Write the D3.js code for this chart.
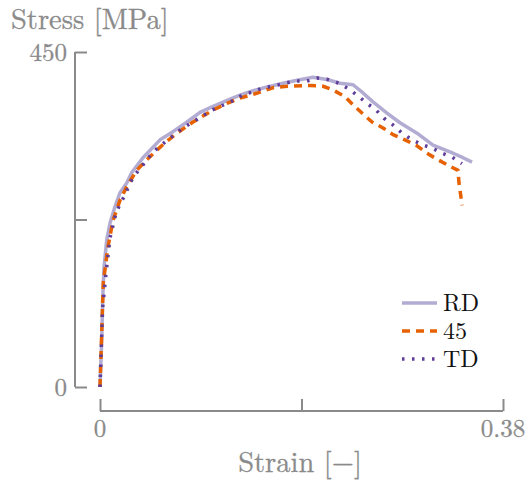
<!DOCTYPE html>
<html>
<head>
    <title>Stress strain</title>
    <script src="https://cdn.jsdelivr.net/npm/d3@7"></script>
    <style>
    body { margin:0; background:#fff; }
    </style>
</head>
<body>
</body>
<script type="text/javascript">

// strain [-], stress [MPa]
const rdStrain = [0, 0.0016, 0.0025, 0.0038, 0.0063, 0.0094, 0.0141, 0.0189, 0.0252, 0.0299, 0.0405, 0.050, 0.0566, 0.0688, 0.082, 0.0943, 0.1066, 0.1198, 0.132, 0.1443, 0.1575, 0.1726, 0.1858, 0.2008, 0.214, 0.2263, 0.2386, 0.248, 0.2574, 0.2706, 0.2829, 0.2989, 0.314, 0.3329, 0.3423, 0.3508];
const rdStress = [0, 63, 117, 161, 197, 220, 242, 261, 274, 288, 308, 322, 332, 343, 356, 369, 377, 385, 392, 398, 403, 408, 412, 416, 413, 408, 406, 395, 383, 368, 355, 341, 325, 314, 308, 302];

const d45Strain = [0, 0.0031, 0.0075, 0.0123, 0.0189, 0.0252, 0.0346, 0.044, 0.0535, 0.0613, 0.0707, 0.0877, 0.1066, 0.1198, 0.132, 0.1443, 0.1631, 0.1763, 0.198, 0.2103, 0.2197, 0.231, 0.2386, 0.247, 0.2565, 0.2669, 0.2763, 0.2876, 0.2989, 0.3083, 0.3178, 0.3281, 0.3376, 0.3385, 0.3404, 0.3413];
const d45Stress = [0, 140, 188, 224, 251, 269, 291, 305, 318, 328, 339, 356, 372, 381, 388, 393, 402, 404, 405, 404, 399, 390, 379, 368, 356, 348, 339, 332, 324, 314, 306, 298, 291, 274, 255, 244];

const tdStrain = [0, 0.0025, 0.0057, 0.0094, 0.0141, 0.0182, 0.0236, 0.0283, 0.033, 0.0393, 0.0455, 0.0535, 0.0613, 0.0783, 0.0877, 0.1056, 0.1245, 0.1339, 0.1433, 0.1537, 0.1631, 0.1744, 0.1848, 0.1952, 0.2046, 0.215, 0.2254, 0.2348, 0.2433, 0.2518, 0.2603, 0.2678, 0.2763, 0.2848, 0.2933, 0.3027, 0.313, 0.3225, 0.3319, 0.3413];
const tdStress = [0, 107, 153, 200, 228, 244, 258, 274, 285, 296, 308, 320, 329, 348, 356, 372, 384, 392, 396, 402, 404, 408, 411, 411, 415, 413, 408, 400, 391, 381, 372, 361, 352, 341, 333, 326, 321, 314, 309, 300];

const seriesNames = ["RD", "45", "TD"];
const xTicks = [0, 0.19, 0.38];
const xTickLabels = ["0", "", "0.38"];
const yTicks = [0, 225, 450];
const yTickLabels = ["0", "", "450"];

const colors = ["#b2abd2", "#e66101", "#5e3c99"];
const dashes = [null, "8,6", "2.5,7.5"];
const widths = [3.5, 3.5, 3.5];
const grey = "#8a8a8a";
const serif = "Latin Modern Roman";

const series = [
    {name:seriesNames[0], values:rdStrain.map((s,i)=>({x:s, y:rdStress[i]}))},
    {name:seriesNames[1], values:d45Strain.map((s,i)=>({x:s, y:d45Stress[i]}))},
    {name:seriesNames[2], values:tdStrain.map((s,i)=>({x:s, y:tdStress[i]}))}
];

const W = 525, H = 485;
const svg = d3.select("body").append("svg")
    .attr("width", W).attr("height", H)
    .attr("font-family", serif);

const x = d3.scaleLinear().domain([0, 0.38]).range([100, 503]);
const y = d3.scaleLinear().domain([0, 450]).range([387, 52]);

// y axis, ticks pointing into the plot
const yAxis = d3.axisRight(y)
    .tickValues(yTicks)
    .tickSize(12)
    .tickFormat("");
const yG = svg.append("g")
    .attr("transform", "translate(75,0)")
    .call(yAxis);
yG.select(".domain").remove();
yG.append("line")
    .attr("x1", 0).attr("x2", 0)
    .attr("y1", y(450)).attr("y2", y(0));
yG.selectAll("line").attr("stroke", grey).attr("stroke-width", 2);
yG.selectAll(".ylab")
    .data(yTicks)
    .join("text")
    .attr("class", "ylab")
    .attr("x", -8)
    .attr("y", d => y(d))
    .attr("dy", "0.35em")
    .attr("text-anchor", "end")
    .attr("fill", grey)
    .attr("stroke", grey).attr("stroke-width", 0.3)
    .attr("font-family", serif)
    .attr("font-size", 25)
    .text((d,i) => yTickLabels[i]);

// x axis, ticks pointing up
const xAxis = d3.axisTop(x)
    .tickValues(xTicks)
    .tickSize(12)
    .tickFormat("");
const xG = svg.append("g")
    .attr("transform", "translate(0,411)")
    .call(xAxis);
xG.select(".domain").remove();
xG.append("line")
    .attr("x1", x(0)).attr("x2", x(0.38))
    .attr("y1", 0).attr("y2", 0);
xG.selectAll("line").attr("stroke", grey).attr("stroke-width", 2);
xG.selectAll(".xlab")
    .data(xTicks)
    .join("text")
    .attr("class", "xlab")
    .attr("x", d => x(d))
    .attr("y", 26)
    .attr("text-anchor", "middle")
    .attr("fill", grey)
    .attr("stroke", grey).attr("stroke-width", 0.3)
    .attr("font-family", serif)
    .attr("font-size", 25)
    .text((d,i) => xTickLabels[i]);

// axis titles
svg.append("text")
    .attr("x", 11).attr("y", 29)
    .attr("fill", grey)
    .attr("stroke", grey).attr("stroke-width", 0.3)
    .attr("font-family", serif)
    .attr("font-size", 28.5)
    .text("Stress [MPa]");
svg.append("text")
    .attr("x", 300).attr("y", 472)
    .attr("text-anchor", "middle")
    .attr("fill", grey)
    .attr("stroke", grey).attr("stroke-width", 0.3)
    .attr("font-family", serif)
    .attr("font-size", 28.5)
    .text("Strain [\u2212]");

// curves
const line = d3.line().x(d => x(d.x)).y(d => y(d.y));
svg.append("g").selectAll("path")
    .data(series)
    .join("path")
    .attr("d", d => line(d.values))
    .attr("fill", "none")
    .attr("stroke", (d,i) => colors[i])
    .attr("stroke-width", (d,i) => widths[i])
    .attr("stroke-dasharray", (d,i) => dashes[i])
    .attr("stroke-linejoin", "round");

// legend
const legend = svg.append("g").attr("transform", "translate(402,303)");
const lg = legend.selectAll("g")
    .data(series)
    .join("g")
    .attr("transform", (d,i) => `translate(0,${i*28})`);
lg.append("line")
    .attr("x1", 0).attr("x2", 35)
    .attr("stroke", (d,i) => colors[i])
    .attr("stroke-width", (d,i) => widths[i])
    .attr("stroke-dasharray", (d,i) => dashes[i]);
lg.append("text")
    .attr("x", 41)
    .attr("dy", "0.35em")
    .attr("font-family", serif)
    .attr("font-size", 24)
    .attr("fill", "#111")
    .text(d => d.name);

</script>
</html>
